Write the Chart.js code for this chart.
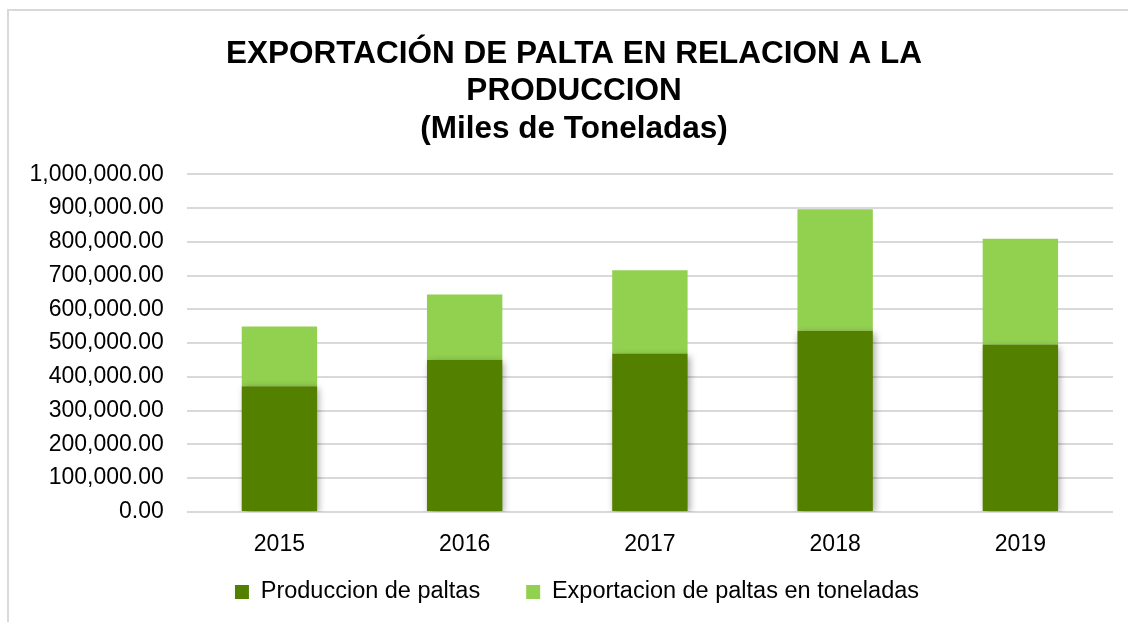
<!DOCTYPE html>
<html>
<head>
<meta charset="utf-8">
<script src="https://cdn.jsdelivr.net/npm/chart.js@4/dist/chart.umd.min.js"></script>
<style>
html,body{margin:0;padding:0;background:#fff;}
#wrap{width:1128px;height:622px;position:relative;}
</style>
</head>
<body>
<div id="wrap"><canvas id="c" width="1128" height="622"></canvas></div>
<script>
const years = ['2015', '2016', '2017', '2018', '2019'];
const produccion = [372000, 450000, 469000, 537000, 496000];
const exportacion = [177000, 194000, 247000, 360000, 313000];
const titleLines = ['EXPORTACIÓN DE PALTA EN RELACION A LA', 'PRODUCCION', '(Miles de Toneladas)'];
const seriesNames = ['Produccion de paltas', 'Exportacion de paltas en toneladas'];

const FONT = "'Liberation Sans', Arial, sans-serif";
const LEGEND_FIT_PAD = 0;    // padding used while laying out
const LEGEND_GAP = 46;       // horizontal gap between legend items when drawn
const LEGEND_CENTER_X = 577; // centre of the legend row
const LEGEND_ITEM_Y = 592;   // vertical centre of the legend row
const TITLE_CENTER_X = 574;  // centre of the title block

const frame = {
  id: 'frame',
  beforeDraw(chart) {
    const ctx = chart.ctx;
    ctx.save();
    ctx.fillStyle = '#fff';
    ctx.fillRect(0, 0, chart.width, chart.height);
    ctx.strokeStyle = '#D9D9D9';
    ctx.lineWidth = 2;
    ctx.beginPath();
    ctx.moveTo(8, chart.height);
    ctx.lineTo(8, 10);
    ctx.lineTo(chart.width, 10);
    ctx.stroke();
    ctx.restore();
  }
};

const shadow = {
  id: 'shadow',
  beforeDatasetDraw(chart, args) {
    const ctx = chart.ctx;
    ctx.save();
    if (args.index === 0) {
      ctx.shadowColor = 'rgba(0,0,0,0.35)';
      ctx.shadowBlur = 7;
      ctx.shadowOffsetX = 2;
      ctx.shadowOffsetY = 2;
    }
  },
  afterDatasetDraw(chart) {
    chart.ctx.restore();
  }
};

// place title and legend like the original after layout, without stealing plot space
const placeBlocks = {
  id: 'placeBlocks',
  afterLayout(chart) {
    const tb = chart.titleBlock;
    if (tb) {
      const tw = tb.right - tb.left;
      tb.left = TITLE_CENTER_X - tw / 2;
      tb.right = tb.left + tw;
    }
    const lg = chart.legend;
    if (!lg || !lg.lineWidths) return;
    const lw = lg.lineWidths[0];
    const span = lw - 2 * LEGEND_FIT_PAD + LEGEND_GAP;
    const x0 = LEGEND_CENTER_X - span / 2;
    const w = lg.right - lg.left;
    const sum = 2 * x0 - LEGEND_GAP + lw;
    lg.left = (sum - w) / 2;
    lg.right = lg.left + w;
    lg.options.labels.padding = LEGEND_GAP;
    const fs = lg.options.labels.font.size || 23;
    lg.top = LEGEND_ITEM_Y - fs / 2 - LEGEND_GAP;
    lg.bottom = chart.height;
    lg.height = lg.bottom - lg.top;
  }
};

new Chart(document.getElementById('c'), {
  type: 'bar',
  data: {
    labels: years,
    datasets: [
      { label: seriesNames[0], data: produccion, backgroundColor: '#548000', borderWidth: 0 },
      { label: seriesNames[1], data: exportacion, backgroundColor: '#92D050', borderWidth: 0 }
    ]
  },
  options: {
    responsive: false,
    animation: false,
    devicePixelRatio: 1,
    layout: { padding: { left: 6.5, right: 15, top: 20, bottom: 11 } },
    datasets: { bar: { barPercentage: 0.407, categoryPercentage: 1 } },
    plugins: {
      title: {
        display: true,
        text: titleLines,
        color: '#000',
        font: { family: FONT, size: 31.5, weight: 'bold', lineHeight: 1.2 },
        padding: { top: 15, bottom: 26 }
      },
      legend: {
        position: 'bottom',
        labels: {
          color: '#000',
          font: { family: FONT, size: 23.5 },
          boxWidth: 14,
          boxHeight: 14,
          padding: LEGEND_FIT_PAD
        }
      },
      tooltip: { enabled: false }
    },
    scales: {
      x: {
        stacked: true,
        grid: { display: false, drawTicks: false },
        border: { display: false },
        ticks: { color: '#000', font: { family: FONT, size: 23 }, padding: 19 }
      },
      y: {
        stacked: true,
        min: 0,
        max: 1000000,
        grid: { color: '#D9D9D9', lineWidth: 2, drawTicks: false },
        border: { display: false },
        ticks: {
          stepSize: 100000,
          autoSkip: false,
          color: '#000',
          padding: 23,
          font: { family: FONT, size: 23 },
          callback: v => Number(v).toLocaleString('en-US', { minimumFractionDigits: 2, maximumFractionDigits: 2 })
        }
      }
    }
  },
  plugins: [frame, shadow, placeBlocks]
});
</script>
</body>
</html>
